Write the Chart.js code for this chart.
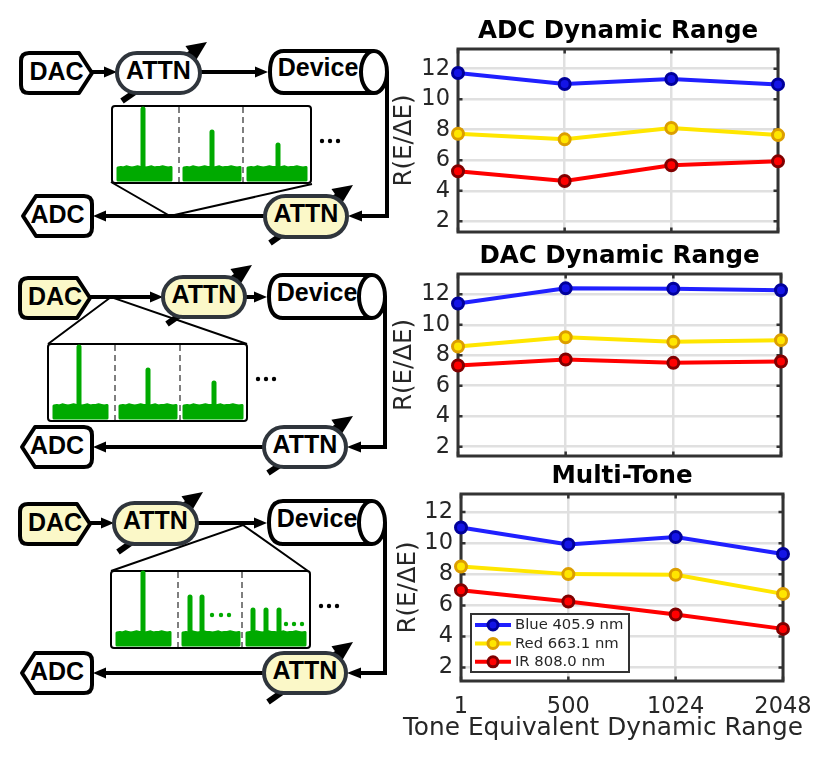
<!DOCTYPE html>
<html>
<head>
<meta charset="utf-8">
<title>Dynamic range</title>
<script src="https://cdn.jsdelivr.net/npm/chart.js@4/dist/chart.umd.min.js"></script>
<style>
html, body { margin: 0; padding: 0; background: #fff; overflow: hidden; }
#page { position: relative; width: 830px; height: 758px; }
#page canvas { position: absolute; left: 390px; }
#diagram { position: absolute; left: 0; top: 0; }
#diagram text { font-family: "Liberation Sans", sans-serif; font-weight: bold; font-size: 25px; text-anchor: middle; fill: #000; }
#xlabel { position: absolute; left: 303px; width: 600px; top: 712px; text-align: center; font: 24.8px "DejaVu Sans", sans-serif; color: #262626; white-space: nowrap; }
</style>
</head>
<body>
<div id="page">
  <svg id="diagram" width="400" height="758"></svg>
  <canvas id="adcChart"></canvas>
  <canvas id="dacChart"></canvas>
  <canvas id="toneChart"></canvas>
  <div id="xlabel">Tone Equivalent Dynamic Range</div>
</div>
<script>
const toneLabels = ['1', '500', '1024', '2048'];
const yTicks = [2, 4, 6, 8, 10, 12];
const seriesNames = ['Blue 405.9 nm', 'Red 663.1 nm', 'IR 808.0 nm'];

const adcBlue = [11.72, 11.0, 11.32, 10.97];
const adcRed = [7.74, 7.37, 8.11, 7.65];
const adcIr = [5.28, 4.64, 5.67, 5.93];

const dacBlue = [11.39, 12.39, 12.37, 12.26];
const dacRed = [8.57, 9.18, 8.88, 8.99];
const dacIr = [7.33, 7.72, 7.5, 7.59];

const toneBlue = [11.01, 9.92, 10.39, 9.3];
const toneRed = [8.5, 8.01, 7.97, 6.74];
const toneIr = [6.98, 6.25, 5.41, 4.49];

const lineStyles = [
    { line: '#2020ff', fill: '#1414e6', edge: '#00009a' },
    { line: '#ffe600', fill: '#ffe600', edge: '#dc9e00' },
    { line: '#ff0000', fill: '#ff0000', edge: '#800000' }
];

const TEXT = '#262626';
const AXIS = '#333333';

/* ======= box and inward ticks, matlab style ======= */
const boxPlugin = {
    id: 'box',
    beforeDatasetsDraw(chart) {
        const { ctx, chartArea: a, scales } = chart;
        ctx.save();
        ctx.strokeStyle = AXIS;
        ctx.lineWidth = 2.5;
        ctx.beginPath();
        scales.y.ticks.forEach(t => {
            const y = scales.y.getPixelForValue(t.value);
            ctx.moveTo(a.left, y); ctx.lineTo(a.left + 4.5, y);
            ctx.moveTo(a.right, y); ctx.lineTo(a.right - 4.5, y);
        });
        toneLabels.forEach((_, i) => {
            const x = scales.x.getPixelForValue(i);
            ctx.moveTo(x, a.top); ctx.lineTo(x, a.top + 4.5);
            ctx.moveTo(x, a.bottom); ctx.lineTo(x, a.bottom - 4.5);
        });
        ctx.stroke();
        ctx.lineWidth = 3;
        ctx.strokeRect(a.left, a.top, a.right - a.left, a.bottom - a.top);
        ctx.restore();
    }
};

/* ======= legend sits inside the third plot ======= */
const insideLegend = {
    id: 'insideLegend',
    afterDatasetsDraw(chart, args, opts) {
        if (!opts.show) return;
        const ctx = chart.ctx;
        const x0 = 81, y0 = 614 - chart.canvas.offsetTop, w = 158, h = 58;
        ctx.save();
        ctx.fillStyle = '#fff';
        ctx.fillRect(x0, y0, w, h);
        ctx.strokeStyle = AXIS;
        ctx.lineWidth = 2;
        ctx.strokeRect(x0, y0, w, h);
        ctx.font = '14.8px "DejaVu Sans"';
        ctx.textBaseline = 'middle';
        seriesNames.forEach((name, i) => {
            const y = y0 + 11 + i * 18.4;
            const st = lineStyles[i];
            ctx.strokeStyle = st.line;
            ctx.lineWidth = 4;
            ctx.beginPath();
            ctx.moveTo(x0 + 4, y); ctx.lineTo(x0 + 40, y);
            ctx.stroke();
            ctx.fillStyle = st.fill;
            ctx.strokeStyle = st.edge;
            ctx.lineWidth = 3;
            ctx.beginPath();
            ctx.arc(x0 + 22, y, 5, 0, Math.PI * 2);
            ctx.fill();
            ctx.stroke();
            ctx.fillStyle = TEXT;
            ctx.fillText(name, x0 + 44, y + 0.5);
        });
        ctx.restore();
    }
};

function makeChart(id, titleText, values, box) {
    const canvas = document.getElementById(id);
    const W = 435;
    const H = box.plotBottom + box.xHeight - box.top;
    canvas.style.top = box.top + 'px';
    canvas.style.width = W + 'px';
    canvas.style.height = H + 'px';
    canvas.width = W;
    canvas.height = H;
    return new Chart(canvas.getContext('2d'), {
        type: 'line',
        plugins: [boxPlugin, insideLegend],
        data: {
            labels: toneLabels,
            datasets: values.map((v, i) => ({
                label: seriesNames[i],
                data: v,
                borderColor: lineStyles[i].line,
                borderWidth: 4,
                tension: 0,
                clip: false,
                pointRadius: 5.5,
                pointBorderWidth: 3,
                pointBackgroundColor: lineStyles[i].fill,
                pointBorderColor: lineStyles[i].edge
            }))
        },
        options: {
            responsive: false,
            animation: false,
            layout: { padding: { right: W - (box.right - 390) } },
            plugins: {
                legend: { display: false },
                tooltip: { enabled: false },
                insideLegend: { show: box.legend },
                title: {
                    display: true,
                    text: titleText,
                    fullSize: false,
                    color: '#000',
                    font: { family: 'DejaVu Sans', size: 24.5, weight: 'bold' },
                    padding: { top: box.plotTop - box.top - 31.9, bottom: 2.5 }
                }
            },
            scales: {
                x: {
                    offset: false,
                    border: { display: false },
                    grid: { color: '#e0e0e0', lineWidth: 2.5, drawTicks: false },
                    afterFit(s) { s.height = box.xHeight; },
                    ticks: {
                        display: box.showX,
                        color: TEXT,
                        maxRotation: 0,
                        autoSkip: false,
                        padding: 13,
                        font: { family: 'DejaVu Sans', size: 22.5 }
                    }
                },
                y: {
                    min: box.min,
                    max: box.max,
                    afterBuildTicks(s) { s.ticks = yTicks.map(v => ({ value: v })); },
                    afterFit(s) { s.width = box.left - 390; },
                    border: { display: false },
                    grid: { color: '#e0e0e0', lineWidth: 2.5, drawTicks: false },
                    ticks: {
                        color: TEXT,
                        padding: 8,
                        font: { family: 'DejaVu Sans', size: 22.5 }
                    },
                    title: {
                        display: true,
                        text: 'R(E/\u0394E)',
                        color: TEXT,
                        padding: { top: box.yTitleTop, bottom: 0 },
                        font: { family: 'DejaVu Sans', size: 24.5 }
                    }
                }
            }
        }
    });
}

// xHeight keeps room under the plot for the y scale's own label padding
makeChart('adcChart', 'ADC Dynamic Range', [adcBlue, adcRed, adcIr],
    { top: 10, left: 458, right: 778, plotTop: 49, plotBottom: 232, min: 1.3, max: 13.29, xHeight: 24, showX: false, yTitleTop: 0 });
makeChart('dacChart', 'DAC Dynamic Range', [dacBlue, dacRed, dacIr],
    { top: 240, left: 458, right: 781, plotTop: 274, plotBottom: 456, min: 1.39, max: 13.33, xHeight: 24, showX: false, yTitleTop: 0 });
makeChart('toneChart', 'Multi-Tone', [toneBlue, toneRed, toneIr],
    { top: 460, left: 461, right: 783, plotTop: 494, plotBottom: 681, min: 1.14, max: 13.16, xHeight: 36, showX: true, yTitleTop: 4, legend: true });

/* ======= block diagrams on the left, plain svg ======= */
const INK = '#000';
const PILL = '#2f353c';
const CREAM = '#fbf8c8';
const GREEN = '#00aa00';
const floorBumps = [0, 0.6, 0, 1.2, 0.6, 0, 0.6, 1.2, 0.6, 0.6, 0, 0.6, 1.2, 0, 0.6, 0.6, 1.2, 0.6, 0, 0.6];

const panels = [
    {
        dac: [21, 92, 53, 93, false], attn1: [117, 200, 53, 93, false], dev: [270, 387, 51, 93],
        attn2: [265, 347, 196, 237, true], adc: [23, 92, 196, 236],
        inset: [112, 106], dashes: [179, 243], callout: [[111, 182], [170, 216], [312, 184]],
        diag1: [122, 101, 207, 42], diag2: [270, 243, 353, 185],
        wireY: 72, ret: [387, 216], stubEnd: 117,
        peaks: [[[143], 109], [[212], 132], [[278], 145]], greenDots: []
    },
    {
        dac: [20, 90, 278, 318, true], attn1: [163, 245, 277, 317, true], dev: [269, 385, 275, 318],
        attn2: [264, 346, 427, 467, false], adc: [22, 92, 427, 467],
        inset: [48, 344], dashes: [115, 180], callout: [[48, 344], [111, 297], [247, 344]],
        diag1: [167, 324, 252, 265], diag2: [268, 473, 353, 416],
        wireY: 297, ret: [385, 447], stubEnd: 163,
        peaks: [[[79], 347], [[148], 370], [[214], 383]], greenDots: []
    },
    {
        dac: [20, 90, 504, 544, true], attn1: [114, 197, 503, 544, true], dev: [269, 385, 501, 544],
        attn2: [264, 346, 653, 693, true], adc: [22, 92, 653, 693],
        inset: [111, 571], dashes: [178, 242], callout: [[111, 571], [243, 525], [308, 571]],
        diag1: [118, 552, 203, 492], diag2: [268, 702, 353, 642],
        wireY: 523, ret: [385, 673], stubEnd: 114,
        peaks: [[[143], 573], [[190, 202], 597], [[253, 266, 279], 610]],
        greenDots: [[212, 615], [221, 615], [229, 615], [286, 624], [294, 624], [302, 624]]
    }
];

function wire(x1, y1, x2, y2, w) {
    return `<line x1="${x1}" y1="${y1}" x2="${x2}" y2="${y2}" stroke="${INK}" stroke-width="${w}"/>`;
}

function arrowHead(x, y, dirX, dirY, len, half) {
    const nx = -dirY, ny = dirX;
    const bx = x - dirX * len, by = y - dirY * len;
    return `<polygon fill="${INK}" points="${x},${y} ${bx + nx * half},${by + ny * half} ${bx - nx * half},${by - ny * half}"/>`;
}

function arrow(x1, y1, x2, y2) {
    const d = Math.hypot(x2 - x1, y2 - y1);
    return wire(x1, y1, x2 - (x2 - x1) / d * 8, y2 - (y2 - y1) / d * 8, 4) + arrowHead(x2, y2, (x2 - x1) / d, (y2 - y1) / d, 13, 5.5);
}

function diagArrow(d) {
    const [x1, y1, x2, y2] = d;
    const len = Math.hypot(x2 - x1, y2 - y1);
    const ux = (x2 - x1) / len, uy = (y2 - y1) / len;
    return wire(x1, y1, x2 - ux * 12, y2 - uy * 12, 6) + arrowHead(x2, y2, ux, uy, 20, 9);
}

function pill(p) {
    const [x0, x1, y0, y1, cream] = p;
    const h = y1 - y0;
    return `<rect x="${x0}" y="${y0}" width="${x1 - x0}" height="${h}" rx="${h / 2}" fill="${cream ? CREAM : '#fff'}" stroke="${PILL}" stroke-width="4"/>` +
        `<text x="${(x0 + x1) / 2}" y="${(y0 + y1) / 2 + 5.5}">ATTN</text>`;
}

function hexTag(p, label, pointLeft) {
    const [x0, x1, y0, y1, cream] = p;
    const ym = (y0 + y1) / 2;
    const fill = cream ? CREAM : '#fff';
    const d = pointLeft
        ? `M${x0 + 13},${y0} H${x1 - 8} Q${x1},${y0} ${x1},${y0 + 8} V${y1 - 8} Q${x1},${y1} ${x1 - 8},${y1} H${x0 + 13} L${x0},${ym} Z`
        : `M${x0 + 8},${y0} H${x1 - 13} L${x1},${ym} L${x1 - 13},${y1} H${x0 + 8} Q${x0},${y1} ${x0},${y1 - 8} V${y0 + 8} Q${x0},${y0} ${x0 + 8},${y0} Z`;
    return `<path d="${d}" fill="${fill}" stroke="${INK}" stroke-width="4" stroke-linejoin="round"/>` +
        `<text x="${(x0 + x1) / 2}" y="${ym + 6.5}">${label}</text>`;
}

function device(p) {
    const [x0, x1, y0, y1] = p;
    const ry = (y1 - y0) / 2, ym = (y0 + y1) / 2, cx = x1 - 13;
    return `<path d="M${cx},${y0} H${x0 + 14} Q${x0},${y0} ${x0},${ym} Q${x0},${y1} ${x0 + 14},${y1} H${cx}" fill="#fff" stroke="${INK}" stroke-width="4"/>` +
        `<ellipse cx="${cx}" cy="${ym}" rx="13" ry="${ry}" fill="#fff" stroke="${INK}" stroke-width="4"/>` +
        `<text x="${x0 + 48}" y="${ym + 4}">Device</text>`;
}

function noiseFloor(x0, x1, yTop, yBot) {
    let pts = `${x0},${yBot} `;
    floorBumps.forEach((b, i) => {
        pts += `${x0 + (x1 - x0) * i / (floorBumps.length - 1)},${yTop - b} `;
    });
    pts += `${x1},${yBot}`;
    return `<polygon points="${pts}" fill="${GREEN}" stroke="${GREEN}" stroke-width="3" stroke-linejoin="round"/>`;
}

function insetBox(p) {
    const [ix, iy] = p.inset;
    let s = `<rect x="${ix}" y="${iy}" width="199" height="77" rx="3" fill="#fff" stroke="${INK}" stroke-width="2"/>`;
    p.dashes.forEach(x => {
        s += `<line x1="${x}" y1="${iy + 1}" x2="${x}" y2="${iy + 76}" stroke="#555" stroke-width="1.5" stroke-dasharray="6 4"/>`;
    });
    const floors = [[5, 60], [71, 129], [135, 195]];
    floors.forEach(([a, b], i) => {
        s += noiseFloor(ix + a + 1, ix + b - 1, iy + 62, iy + 74);
        const [xs, top] = p.peaks[i];
        xs.forEach(x => {
            s += `<line x1="${x}" y1="${top}" x2="${x}" y2="${iy + 66}" stroke="${GREEN}" stroke-width="5" stroke-linecap="round"/>`;
        });
    });
    p.greenDots.forEach(([x, y]) => { s += `<circle cx="${x}" cy="${y}" r="2.2" fill="${GREEN}"/>`; });
    [210, 218, 226].forEach(dx => { s += `<circle cx="${ix + dx}" cy="${iy + 35}" r="2.2" fill="${INK}"/>`; });
    return s;
}

let svg = '';
panels.forEach(p => {
    const y = p.wireY;
    const retY = p.ret[1];
    svg += diagArrow(p.diag1) + diagArrow(p.diag2);
    svg += arrow(p.dac[1], y, p.stubEnd, y);
    svg += arrow(p.attn1[1], y, p.dev[0] - 2, y);
    svg += `<polyline points="${p.ret[0]},${p.dev[2] + 21} ${p.ret[0]},${retY} ${p.attn2[1] + 14},${retY}" fill="none" stroke="${INK}" stroke-width="4"/>`;
    svg += arrowHead(p.attn2[1] + 1, retY, -1, 0, 14, 5.5);
    svg += arrow(p.attn2[0], retY, p.adc[1] + 1, retY);
    svg += hexTag(p.dac, 'DAC', false) + pill(p.attn1) + device(p.dev);
    svg += pill(p.attn2) + hexTag(p.adc, 'ADC', true);
    svg += insetBox(p);
    svg += `<polyline points="${p.callout.map(c => c.join(',')).join(' ')}" fill="none" stroke="${INK}" stroke-width="2"/>`;
});
document.getElementById('diagram').innerHTML = svg;
</script>
</body>
</html>
